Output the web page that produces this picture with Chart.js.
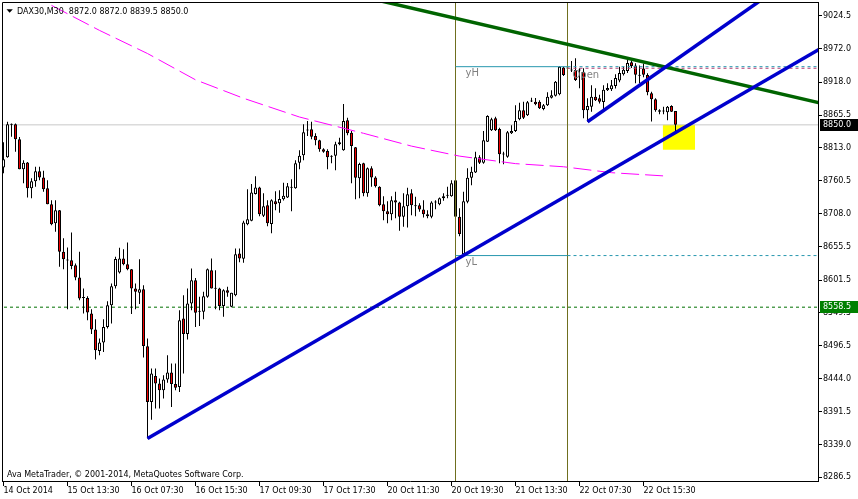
<!DOCTYPE html>
<html><head><meta charset="utf-8">
<script src="https://cdn.jsdelivr.net/npm/chart.js@4/dist/chart.umd.min.js"></script>
<style>html,body{margin:0;padding:0;background:#fff;overflow:hidden}#wrap{width:858px;height:499px;position:relative}</style>
</head><body><div id="wrap"><canvas id="c" width="858" height="499"></canvas></div>
<script>
// ---- DATA (DAX30, M30) ----
const opens=[8782,8798,8851,8851,8827,8779,8790,8748.5,8760,8776,8766,8748.5,8723,8692.5,8713.5,8647,8633.5,8633.5,8625.5,8606,
8573.5,8573,8548.5,8523,8488.5,8502,8527,8561.5,8592,8614,8636.5,8627,8619,8588.5,8581.5,8587,8496,8407,8448.5,8436.5,
8425.5,8443,8454,8435.5,8431,8540.5,8515.5,8564.5,8601.5,8551,8551,8575,8617.5,8588.5,8588.5,8560.5,8585.5,8559,8577.5,8644.5,
8636,8691,8696.5,8739.5,8750,8704.5,8721.5,8691.5,8728,8724.5,8731,8734,8749.5,8748.5,8789.5,8801.5,8841.5,8843,8832,8825.5,
8811,8808,8799.5,8800.5,8819,8809.5,8857.5,8837.5,8814,8764.5,8788.5,8740.5,8780.5,8766,8751,8723,8712,8707,8729.5,8726,
8703,8720,8740.5,8720.5,8721.5,8714.5,8707,8703,8726,8723,8732.5,8736.5,8736,8761.5,8703,8643,8727,8765.5,8774,8798,
8789.5,8823,8841.5,8860.5,8843.5,8803,8799,8836.5,8840,8859,8873.5,8865.5,8888,8887,8887,8875.5,8881.5,8893.5,8896.5,8899,
8941.5,8940.5,8937.5,8937.5,8937.5,8935,8873.5,8879,8895,8892.5,8886.5,8905.5,8907,8912,8921,8931,8936,8950,8945,8929.5,
8940,8929.5,8900.5,8891,8873.5,8872,8870,8880,8872];
const highs=[8822,8855,8852,8852,8830.5,8793.5,8790.5,8764.5,8783,8783,8776.5,8761.5,8729.5,8729.5,8714,8668.5,8654,8678,8628.5,8647,
8588.5,8576,8555,8539,8508.5,8539,8568,8596.5,8639,8653.5,8651,8662,8619.5,8596.5,8635,8593.5,8508.5,8460.5,8460.5,8444.5,
8449.5,8481.5,8468.5,8468.5,8553.5,8577.5,8588.5,8620.5,8605,8575,8583,8620.5,8636.5,8617.5,8589.5,8587,8591,8581.5,8652.5,8652.5,
8696.5,8747,8755.5,8768,8751,8740.5,8729.5,8731,8744,8745.5,8757.5,8757,8763,8793.5,8809.5,8851,8856,8855,8836.5,8826,
8812.5,8811,8801.5,8823,8829.5,8883.5,8861.5,8840,8814.5,8789.5,8789.5,8782,8784,8768,8752,8736,8728,8736,8743,8727,
8740.5,8749.5,8747,8735,8724.5,8729.5,8713.5,8728,8729.5,8734,8740.5,8751,8761.5,8763,8716.5,8743,8780.5,8783,8807,8801.5,
8840,8865.5,8861.5,8863,8845.5,8807,8840,8849.5,8881.5,8885.5,8887,8888,8893.5,8893,8889.5,8883.5,8902,8905.5,8920,8944,
8943,8941.5,8952,8956.5,8940.5,8940.5,8892.5,8913.5,8908.5,8898,8913.5,8916.5,8921.5,8931,8943,8943,8955,8954,8948.5,8945,
8948,8932.5,8903,8892.5,8875,8879,8880,8881.5,8872];
const lows=[8772.5,8797.5,8831,8807,8779,8756.5,8734,8732.5,8751,8761.5,8743,8723,8689.5,8679,8623,8619,8555,8619,8601.5,8569.5,
8548.5,8537.5,8515.5,8475,8481.5,8487,8524.5,8532.5,8588.5,8612.5,8625.5,8617.5,8547.5,8555,8563.5,8478,8348.5,8378.5,8396.5,8396.5,
8412.5,8437.5,8399,8425.5,8423,8452.5,8507,8553.5,8527,8528.5,8539,8573.5,8588.5,8555,8553.5,8543,8575,8558.5,8576,8630.5,
8629.5,8689.5,8696,8738.5,8704,8702.5,8688,8676.5,8713.5,8709.5,8729,8733,8712,8748,8779,8793.5,8832,8827,8817.5,8807,
8805.5,8779,8788.5,8777.5,8817.5,8808.5,8833.5,8756.5,8731,8732.5,8736,8735,8751,8750,8720,8697.5,8692.5,8697.5,8700.5,8680.5,
8687,8686,8705.5,8704,8711,8702,8700.5,8700.5,8715,8721.5,8728.5,8732.5,8735,8702.5,8672,8641,8724.5,8753.5,8773,8787.5,
8788,8822.5,8840,8840,8788.5,8787,8797.5,8835.5,8838.5,8857.5,8859.5,8864,8886.5,8881.5,8875.5,8873.5,8880,8892,8895.5,8897.5,
8928,8931.5,8934.5,8920,8908.5,8860.5,8855,8871,8888,8884,8871,8904,8904,8908,8918,8929,8933,8941,8916.5,8916.5,
8926,8897.5,8855.5,8871,8867,8867,8857.5,8870.5,8839.5];
const closes=[8795,8851,8850,8827,8779,8789.5,8748.5,8760,8776,8766,8747,8723,8691,8713.5,8647,8635,8633,8624.5,8606,8572.5,
8573,8550,8523,8489.5,8502,8527,8561.5,8592,8635.5,8636.5,8627,8619,8588.5,8583,8587,8496.5,8407,8452.5,8436.5,8425.5,
8443,8454,8435.5,8429.5,8537.5,8515.5,8564.5,8601.5,8549.5,8551.5,8576,8619,8588.5,8588,8560.5,8585.5,8581.5,8581.5,8643,8636.5,
8694,8699,8742,8750,8707,8720,8692.5,8729.5,8723,8731.5,8736.5,8752,8750,8788.5,8800.5,8838,8841,8831,8825.5,8811,
8807,8798,8799,8819,8822,8856,8836.5,8816,8765.5,8787.5,8740.5,8780.5,8766,8752,8721.5,8712,8707,8729.5,8726,8703,
8720,8739,8721.5,8720,8714.5,8707,8704,8726,8726.5,8732.5,8736,8737,8756.5,8703,8675.5,8728,8765.5,8775,8798,8789.5,
8825.5,8864,8859,8841.5,8803,8802.5,8838,8840,8856,8873.5,8861.5,8886,8887.5,8883,8876.5,8881.5,8895,8897.5,8919,8943,
8929.5,8940,8937,8921.5,8937,8873.5,8880,8895,8889.5,8887,8906,8909,8913.5,8925,8933,8938,8949,8944,8930,8928.5,
8930,8902,8891,8873.5,8871,8871.5,8879,8871,8850];
const timeTickBars=[0,16,32,48,64,80,96,112,128,144,160];
const timeTickLabels=["14 Oct 2014","15 Oct 13:30","16 Oct 07:30","16 Oct 15:30","17 Oct 09:30","17 Oct 17:30","20 Oct 11:30","20 Oct 19:30","21 Oct 13:30","22 Oct 07:30","22 Oct 15:30"];
const priceTicks=[9024.5,8972.0,8918.0,8865.5,8813.0,8760.5,8708.0,8655.5,8601.5,8549.5,8496.5,8444.0,8391.5,8339.0,8286.5];
const maBars=[12,24,36,48,60,74,90,102,114,128,140,152,166];
const maValues=[9041,9001,8964,8922,8892.5,8862.5,8836.5,8816,8800,8788,8783,8773.5,8768];
const daySeparators=[113,141];
const yHigh=8943, yLow=8641, todayOpen=8940.5;
const bidPrice=8850.0, supportLevel=8558.5;
const trendBlueLong=[[36,8348.5],[210,8993.3]];
const trendBlueShort=[[146,8855],[200,9097]];
const trendGreen=[[90,9054.5],[210,8876.2]];
const yellowBoxBars=[164.8,172.9], yellowBoxPrices=[8850,8810];
const symbolName="DAX30,M30";
const copyright="Ava MetaTrader, \u00A9 2001-2014, MetaQuotes Software Corp.";

// ---- CHART ----
const X_MIN=-0.375, X_MAX=203.625, Y_MIN=8280.6, Y_MAX=9046.4;
const FONT='"DejaVu Sans"';
const N=opens.length;
const idx=opens.map((_,i)=>i);
const RED='#F00000';
const pts=a=>a.map(p=>({x:p[0],y:p[1]}));
function lineDS(points,color,width,dash,order){
  return {type:'line',data:points,borderColor:color,borderWidth:width,borderDash:dash||[],
    pointRadius:0,tension:0,fill:false,order:order,clip:0,borderCapStyle:'butt',spanGaps:true};
}
const datasets=[
  lineDS(pts(trendBlueLong),'#0000CD',3.5,null,1),
  lineDS(pts(trendBlueShort),'#0000CD',3.5,null,1),
  lineDS(pts(trendGreen),'#006400',3.5,null,2),
  lineDS(maBars.map((b,k)=>({x:b,y:maValues[k]})),'#FF00FF',1,[18,6],3),
  lineDS([{x:daySeparators[0],y:yHigh},{x:daySeparators[1],y:yHigh}],'#2797AE',1,null,4),
  lineDS([{x:daySeparators[1],y:yHigh},{x:X_MAX+1,y:yHigh}],'#2797AE',1,[3,3],4),
  lineDS([{x:daySeparators[0],y:yLow},{x:daySeparators[1],y:yLow}],'#2797AE',1,null,4),
  lineDS([{x:daySeparators[1],y:yLow},{x:X_MAX+1,y:yLow}],'#2797AE',1,[3,3],4),
  lineDS([{x:daySeparators[1],y:todayOpen},{x:X_MAX+1,y:todayOpen}],'#B4386E',1,[3,3],4),
  ...daySeparators.map(d=>lineDS([{x:d,y:Y_MIN-10},{x:d,y:Y_MAX+10}],'#6F6F1F',1,null,4)),
  {type:'bar',data:idx.map(i=>({x:i,y:[opens[i],closes[i]]})),
    backgroundColor:idx.map(i=>closes[i]>=opens[i]?'#FFFFFF':RED),borderColor:'#000',borderWidth:1,
    borderSkipped:false,grouped:false,categoryPercentage:1,barPercentage:0.75,inflateAmount:0,minBarLength:1,order:5},
  {type:'bar',data:idx.map(i=>({x:i,y:[lows[i],highs[i]]})),
    backgroundColor:'#000',borderWidth:0,grouped:false,categoryPercentage:1,barPercentage:0.25,inflateAmount:0,minBarLength:1,order:6},
  lineDS([{x:X_MIN-1,y:bidPrice},{x:X_MAX+1,y:bidPrice}],'#C8C8C8',1,null,7),
  lineDS([{x:X_MIN-1,y:supportLevel},{x:X_MAX+1,y:supportLevel}],'#007000',1,[3,3],7),
  Object.assign(lineDS([{x:yellowBoxBars[0],y:yellowBoxPrices[0]},{x:yellowBoxBars[1],y:yellowBoxPrices[0]}],'#FFFF00',0,null,8),
    {fill:{value:yellowBoxPrices[1]},backgroundColor:'#FFFF00'})
];

const overlay={id:'overlay',afterDraw(chart){
  const {ctx,chartArea:a,scales:{x,y}}=chart;
  ctx.save();
  ctx.strokeStyle='#000';ctx.lineWidth=1;
  ctx.beginPath();ctx.moveTo(a.left+0.5,a.bottom);ctx.lineTo(a.left+0.5,a.top+0.5);ctx.lineTo(a.right,a.top+0.5);ctx.stroke();
  // header
  ctx.fillStyle='#000';
  ctx.beginPath();ctx.moveTo(6.5,9.3);ctx.lineTo(12.8,9.3);ctx.lineTo(9.65,12.8);ctx.closePath();ctx.fill();
  ctx.font='8px '+FONT;ctx.textAlign='left';ctx.textBaseline='alphabetic';
  const L=N-1;
  ctx.fillText(symbolName+'  '+[opens[L],highs[L],lows[L],closes[L]].map(v=>v.toFixed(1)).join(' '),17,14);
  ctx.fillText(copyright,7,477);
  // line labels
  ctx.fillStyle='#808080';ctx.font='10px '+FONT;ctx.textBaseline='top';
  const x0=x.getPixelForValue(daySeparators[0]), x1=x.getPixelForValue(daySeparators[1]);
  ctx.fillText('yH',x0+10,y.getPixelForValue(yHigh)+2);
  ctx.fillText('yL',x0+10,y.getPixelForValue(yLow)+2);
  ctx.fillText('Open',x1+5,y.getPixelForValue(todayOpen)+2);
  // price boxes
  function box(price,bg){
    const py=Math.round(y.getPixelForValue(price));
    ctx.fillStyle=bg;ctx.fillRect(a.right+2,py-6,38,12);
    ctx.fillStyle='#fff';ctx.font='8px '+FONT;ctx.textBaseline='middle';ctx.textAlign='left';
    ctx.fillText(price.toFixed(1),a.right+5,py);
  }
  box(bidPrice,'#000');box(supportLevel,'#008000');
  ctx.restore();
}};

new Chart(document.getElementById('c'),{
  type:'bar',
  data:{datasets},
  options:{
    responsive:false,animation:false,devicePixelRatio:1,
    layout:{padding:{left:2,top:2,right:0,bottom:0}},
    plugins:{legend:{display:false},tooltip:{enabled:false}},
    scales:{
      x:{type:'linear',min:X_MIN,max:X_MAX,offset:false,
        afterBuildTicks:s=>{s.ticks=timeTickBars.map(v=>({value:v}));},
        afterFit:s=>{s.height=18;s.paddingLeft=0;s.paddingRight=0;},
        grid:{drawOnChartArea:false,drawTicks:true,tickLength:5,color:'#000',offset:false},
        border:{display:true,color:'#000',width:1},
        ticks:{autoSkip:false,maxRotation:0,minRotation:0,align:'start',padding:0,color:'#000',font:{family:'DejaVu Sans',size:8},
          callback:v=>{const k=timeTickBars.indexOf(v);return k>=0?timeTickLabels[k]:'';}}},
      y:{type:'linear',position:'right',min:Y_MIN,max:Y_MAX,
        afterBuildTicks:s=>{s.ticks=priceTicks.map(v=>({value:v}));},
        afterFit:s=>{s.width=40;s.paddingTop=0;s.paddingBottom=0;},
        grid:{drawOnChartArea:false,tickLength:4,color:'#000'},
        border:{display:true,color:'#000',width:1},
        ticks:{autoSkip:false,padding:1,color:'#000',font:{family:'DejaVu Sans',size:8},callback:v=>v.toFixed(1)}}
    }
  },
  plugins:[overlay]
});
</script></body></html>
